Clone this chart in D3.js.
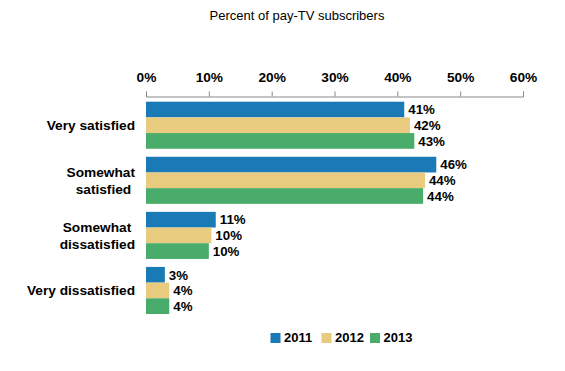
<!DOCTYPE html>
<html>
<head>
<meta charset="utf-8">
<script src="https://cdn.jsdelivr.net/npm/d3@7"></script>
<style>
  body { margin: 0; background: #fff; }
  text { font-family: Arial, "Liberation Sans", sans-serif; }
</style>
</head>
<body>
<div id="chart"></div>
<script>
// Data
const categories = [["Very satisfied"], ["Somewhat", "satisfied "], ["Somewhat ", "dissatisfied"], ["Very dissatisfied"]];
const years = ["2011", "2012", "2013"];
const values2011 = [41.1, 46.2, 11.1, 3.0];
const values2012 = [42.0, 44.4, 10.4, 3.7];
const values2013 = [42.7, 44.1, 10.0, 3.7];
const xTicks = [0, 10, 20, 30, 40, 50, 60];

const width = 565;
const height = 371;
const colors = ["#1a7ab5", "#e9cb80", "#4aac6a"];

const series = [values2011, values2012, values2013];
const rows = categories.map((c, i) => ({ key: i, label: c, vals: series.map(s => s[i]) }));

const svg = d3.select("#chart")
  .append("svg")
  .attr("width", width)
  .attr("height", height);

// Title
svg.append("text")
  .attr("x", 297)
  .attr("y", 20)
  .attr("font-size", 13)
  .attr("text-anchor", "middle")
  .attr("fill", "#000")
  .text("Percent of pay-TV subscribers");

// Scales
const x = d3.scaleLinear().domain([0, 60]).range([146, 523]);

const y = d3.scaleBand()
  .domain(rows.map(d => d.key))
  .range([97.7, 318])
  .paddingInner(0.145)
  .paddingOuter(0.0725);

const yInner = d3.scaleBand()
  .domain(years)
  .range([0, y.bandwidth()]);

// Axis on top
const axis = svg.append("g")
  .attr("transform", "translate(0, 96.5)")
  .call(d3.axisTop(x).tickValues(xTicks).tickFormat(d => d + "%").tickSize(5).tickPadding(9.5));

axis.select(".domain").attr("stroke", "#888");
axis.selectAll(".tick line").attr("stroke", "#888");
axis.selectAll(".tick text")
  .attr("font-size", 13.7)
  .attr("font-weight", "bold")
  .attr("font-family", "Arial, 'Liberation Sans', sans-serif")
  .attr("fill", "#000");

// Bars
const groups = svg.selectAll(".group")
  .data(rows)
  .enter()
  .append("g")
  .attr("class", "group")
  .attr("transform", d => `translate(0, ${y(d.key)})`);

groups.selectAll("rect")
  .data(d => d.vals.map((v, j) => ({ year: years[j], v: v, j: j })))
  .enter()
  .append("rect")
  .attr("x", x(0))
  .attr("y", d => yInner(d.year))
  .attr("width", d => x(d.v) - x(0))
  .attr("height", yInner.bandwidth())
  .attr("fill", d => colors[d.j]);

groups.selectAll(".val")
  .data(d => d.vals.map((v, j) => ({ year: years[j], v: v, j: j })))
  .enter()
  .append("text")
  .attr("class", "val")
  .attr("x", d => x(d.v) + 4)
  .attr("y", d => yInner(d.year) + yInner.bandwidth() / 2)
  .attr("dy", "0.36em")
  .attr("font-size", 13.3)
  .attr("font-weight", "bold")
  .attr("fill", "#000")
  .text(d => Math.round(d.v) + "%");

// Category labels
groups.append("text")
  .attr("x", 135)
  .attr("y", y.bandwidth() / 2)
  .attr("text-anchor", "end")
  .attr("font-size", 13.7)
  .attr("font-weight", "bold")
  .attr("fill", "#000")
  .style("white-space", "pre")
  .selectAll("tspan")
  .data(d => d.label.map((l, k) => ({ l: l, k: k, n: d.label.length })))
  .enter()
  .append("tspan")
  .attr("x", 135)
  .attr("dy", d => d.k === 0 ? (0.36 - (d.n - 1) * 0.61) + "em" : "1.22em")
  .text(d => d.l);

// Legend
const legend = svg.append("g").attr("transform", "translate(270.5, 333)");
const legendX = [0, 51, 99.5];
years.forEach((yr, j) => {
  legend.append("rect")
    .attr("x", legendX[j])
    .attr("y", 0)
    .attr("width", 10)
    .attr("height", 10)
    .attr("fill", colors[j]);
  legend.append("text")
    .attr("x", legendX[j] + 13.5)
    .attr("y", 9.3)
    .attr("font-size", 13)
    .attr("font-weight", "bold")
    .attr("fill", "#000")
    .text(yr);
});
</script>
</body>
</html>
